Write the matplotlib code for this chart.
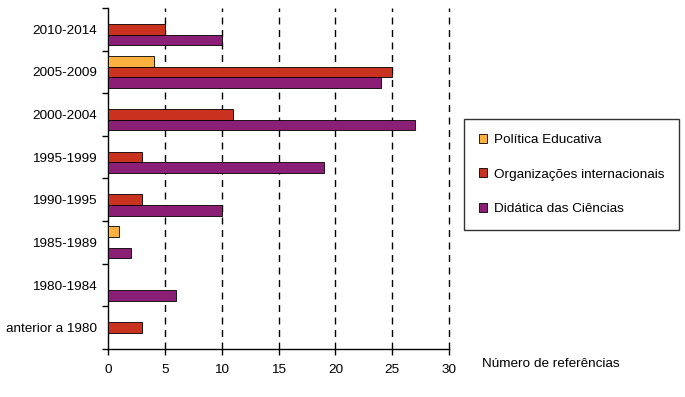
import matplotlib.pyplot as plt
import numpy as np
from matplotlib.patches import Patch

plt.rcParams['font.family'] = ['Liberation Sans', 'DejaVu Sans']

# categories top to bottom as in the picture
periodos = ["2010-2014", "2005-2009", "2000-2004", "1995-1999",
            "1990-1995", "1985-1989", "1980-1984", "anterior a 1980"]
politica = [0, 4, 0, 0, 0, 1, 0, 0]
organizacoes = [5, 25, 11, 3, 3, 0, 0, 3]
didatica = [10, 24, 27, 19, 10, 2, 6, 0]

series = ["Política Educativa", "Organizações internacionais", "Didática das Ciências"]
cores = ["#FBB040", "#C8321F", "#8B1F75"]

fig = plt.figure(figsize=(6.85, 3.97), dpi=100)
ax = fig.add_axes([0.1577, 0.121, 0.498, 0.859])

n = len(periodos)
# group i centered at y = n-1-i (top first)
centros = np.arange(n)[::-1].astype(float)
h = 0.25
for k, vals in enumerate([politica, organizacoes, didatica]):
    offs = (1 - k) * h
    ax.barh(centros + offs, vals, height=h, color=cores[k],
            edgecolor="black", linewidth=0.6, zorder=3)

ax.set_xlim(0, 30)
ax.set_ylim(-0.5, n - 0.5)
ax.set_xticks(range(0, 31, 5))
ax.set_yticks(centros)
ax.set_yticklabels(periodos, fontsize=9.7)
ax.set_yticks(np.arange(-0.5, n, 1.0), minor=True)
ax.tick_params(axis="y", which="major", length=0, pad=8)
ax.tick_params(axis="y", which="minor", length=4, width=1, direction="out")
ax.tick_params(axis="x", length=4, width=1, direction="out", labelsize=9.7, pad=7)

for v in range(5, 31, 5):
    ax.axvline(v, color="black", linestyle=(0, (5, 4)), linewidth=1, zorder=1,
               clip_on=False)

ax.spines["top"].set_visible(False)
ax.spines["right"].set_visible(False)
ax.spines["left"].set_linewidth(1)
ax.spines["bottom"].set_linewidth(1)

fig.text(0.703, 0.083, "Número de referências", fontsize=9.7, va="center")

handles = [Patch(facecolor=c, edgecolor="black", linewidth=0.6) for c in cores]
leg = fig.legend(handles, series, loc="upper left", bbox_to_anchor=(0.677, 0.700),
                 fontsize=9.7, frameon=True, fancybox=False, edgecolor="black",
                 handlelength=0.65, handleheight=0.65, handletextpad=0.5,
                 labelspacing=1.65, borderpad=1.1, borderaxespad=0)
leg.get_frame().set_linewidth(1)

fig.savefig("out.png", dpi=100)
